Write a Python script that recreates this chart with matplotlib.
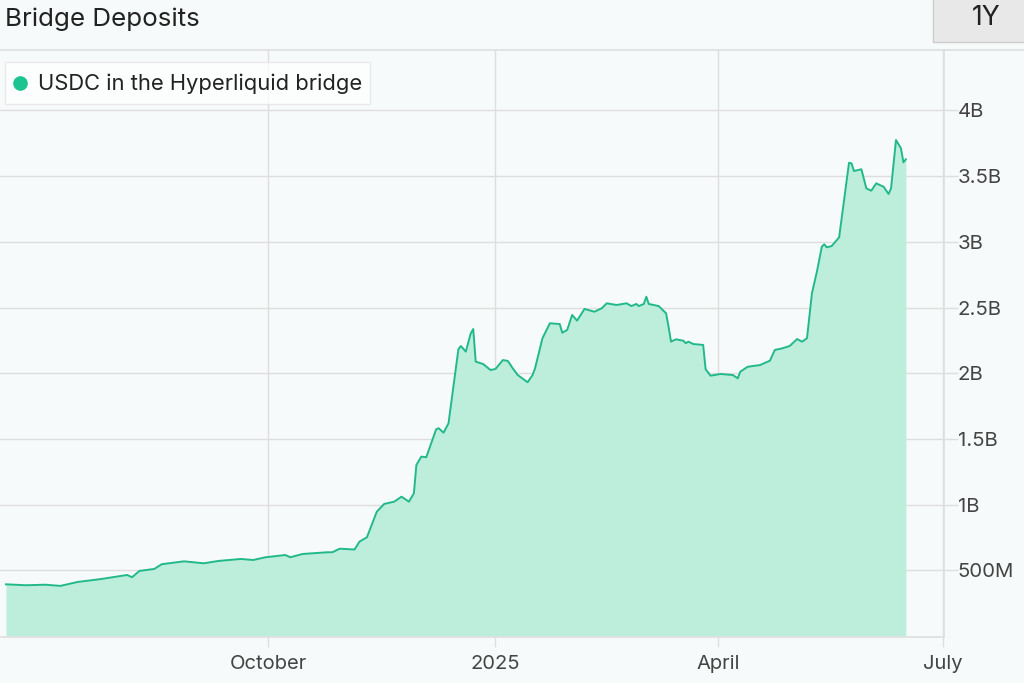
import matplotlib
matplotlib.use("Agg")
import matplotlib.pyplot as plt
import matplotlib.dates as mdates
from matplotlib.patches import Rectangle
from matplotlib.lines import Line2D
import pandas as pd

plt.rcParams['font.family'] = ['Inter', 'DejaVu Sans']

dates = [
    "2024-06-17", "2024-06-25", "2024-07-03", "2024-07-09", "2024-07-16", "2024-07-25",
    "2024-08-05", "2024-08-07", "2024-08-10", "2024-08-16", "2024-08-19", "2024-08-28",
    "2024-09-05", "2024-09-11", "2024-09-20", "2024-09-25", "2024-09-30", "2024-10-08",
    "2024-10-10", "2024-10-15", "2024-10-25", "2024-10-27", "2024-10-30", "2024-11-05",
    "2024-11-07", "2024-11-10", "2024-11-14", "2024-11-17", "2024-11-21", "2024-11-24",
    "2024-11-27", "2024-11-29", "2024-11-30", "2024-12-02", "2024-12-04", "2024-12-08",
    "2024-12-09", "2024-12-11", "2024-12-13", "2024-12-17", "2024-12-18", "2024-12-20",
    "2024-12-22", "2024-12-23", "2024-12-24", "2024-12-27", "2024-12-30", "2025-01-01",
    "2025-01-04", "2025-01-06", "2025-01-08", "2025-01-10", "2025-01-14", "2025-01-16",
    "2025-01-17", "2025-01-20", "2025-01-23", "2025-01-27", "2025-01-28", "2025-01-30",
    "2025-02-01", "2025-02-03", "2025-02-06", "2025-02-10", "2025-02-13", "2025-02-15",
    "2025-02-19", "2025-02-23", "2025-02-25", "2025-02-27", "2025-02-28", "2025-03-02",
    "2025-03-03", "2025-03-04", "2025-03-08", "2025-03-11", "2025-03-12", "2025-03-13",
    "2025-03-15", "2025-03-18", "2025-03-19", "2025-03-20", "2025-03-22", "2025-03-26",
    "2025-03-27", "2025-03-29", "2025-04-02", "2025-04-07", "2025-04-09", "2025-04-10",
    "2025-04-13", "2025-04-18", "2025-04-22", "2025-04-24", "2025-04-27", "2025-04-30",
    "2025-05-03", "2025-05-05", "2025-05-07", "2025-05-09", "2025-05-11", "2025-05-13",
    "2025-05-14", "2025-05-15", "2025-05-17", "2025-05-20", "2025-05-24", "2025-05-25",
    "2025-05-26", "2025-05-29", "2025-05-31", "2025-06-02", "2025-06-04", "2025-06-07",
    "2025-06-09", "2025-06-10", "2025-06-12", "2025-06-14", "2025-06-15", "2025-06-16",
]
usdc_billions = [
    0.393, 0.386, 0.390, 0.381, 0.411, 0.432,
    0.464, 0.447, 0.495, 0.510, 0.546, 0.568,
    0.553, 0.571, 0.586, 0.578, 0.599, 0.616,
    0.599, 0.624, 0.637, 0.637, 0.664, 0.658,
    0.718, 0.751, 0.946, 1.005, 1.022, 1.060,
    1.022, 1.086, 1.301, 1.365, 1.360, 1.573,
    1.581, 1.547, 1.619, 2.182, 2.207, 2.164,
    2.304, 2.336, 2.088, 2.070, 2.024, 2.032,
    2.100, 2.093, 2.037, 1.986, 1.931, 1.986,
    2.037, 2.266, 2.380, 2.374, 2.308, 2.329,
    2.443, 2.400, 2.489, 2.468, 2.494, 2.532,
    2.519, 2.532, 2.511, 2.527, 2.511, 2.527,
    2.582, 2.527, 2.511, 2.456, 2.354, 2.240,
    2.258, 2.247, 2.228, 2.240, 2.222, 2.215,
    2.030, 1.981, 1.994, 1.986, 1.961, 2.011,
    2.049, 2.062, 2.095, 2.177, 2.189, 2.207,
    2.260, 2.240, 2.266, 2.608, 2.772, 2.963,
    2.981, 2.958, 2.968, 3.034, 3.602, 3.597,
    3.539, 3.552, 3.407, 3.389, 3.445, 3.419,
    3.364, 3.407, 3.775, 3.712, 3.605, 3.628,
]
y_ticks = [0.5e9, 1e9, 1.5e9, 2e9, 2.5e9, 3e9, 3.5e9, 4e9]
y_labels = ["500M", "1B", "1.5B", "2B", "2.5B", "3B", "3.5B", "4B"]
x_ticks = ["2024-10-01", "2025-01-01", "2025-04-01", "2025-07-01"]
x_labels = ["October", "2025", "April", "July"]
title = "Bridge Deposits"
series_name = "USDC in the Hyperliquid bridge"
range_label = "1Y"

bg = "#f7fafa"
line_c = "#22b98a"
fill_c = "#bdeedc"
grid_c = "#dedede"
text_c = "#444444"

x = pd.to_datetime(dates)
y = [v * 1e9 for v in usdc_billions]

fig = plt.figure(figsize=(10.24, 6.83), dpi=100, facecolor=bg)
ax = fig.add_axes([0.0, 1 - 637 / 683, 944 / 1024, (637 - 50) / 683])
ax.set_facecolor(bg)

ax.fill_between(x, 0, y, color=fill_c, linewidth=0, zorder=2)
ax.plot(x, y, color=line_c, linewidth=1.4, zorder=3)

ax.set_xlim(mdates.date2num(pd.Timestamp("2024-06-14 14:00")),
            mdates.date2num(pd.Timestamp("2025-07-01 10:00")))
ax.set_ylim(-0.008e9, 4.46e9)

ax.yaxis.tick_right()
ax.set_yticks(y_ticks)
ax.set_yticklabels(y_labels)
ax.set_xticks(mdates.date2num(pd.to_datetime(x_ticks)))
ax.set_xticklabels(x_labels)
ax.tick_params(axis='y', length=10, width=1, color=grid_c, pad=0,
               labelsize=14.7, labelcolor=text_c)
ax.tick_params(axis='x', length=7, width=1, color=grid_c, pad=6,
               labelsize=14.5, labelcolor=text_c)
ax.grid(True, color=grid_c, linewidth=1, zorder=1)
ax.set_axisbelow(True)
for s in ["left", "top"]:
    ax.spines[s].set_visible(False)
for s in ["right", "bottom"]:
    ax.spines[s].set_color(grid_c)
    ax.spines[s].set_linewidth(1.2)

# top separator line across the full width
fig.add_artist(Line2D([0, 1], [1 - 50 / 683, 1 - 50 / 683], color=grid_c,
                      linewidth=1.2, transform=fig.transFigure))

fig.text(5 / 1024, 1 - 19.5 / 683, title, fontsize=18.7, color="#222222",
         ha="left", va="center")

# range button
fig.add_artist(Rectangle((933 / 1024, 1 - 42 / 683), 100 / 1024, 50 / 683,
                         transform=fig.transFigure, facecolor="#e8e8e8",
                         edgecolor="#cccccc", linewidth=1))
fig.text(986 / 1024, 1 - 18 / 683, range_label, fontsize=19, color="#222222",
         ha="center", va="center")

# legend box (semi-transparent, grid shows through)
fig.add_artist(Rectangle((5 / 1024, 1 - 104 / 683), 365 / 1024, 42 / 683,
                         transform=fig.transFigure, facecolor="white", alpha=0.75,
                         edgecolor="#e4e4e4", linewidth=1, zorder=5))
fig.add_artist(Line2D([20 / 1024], [1 - 83 / 683], marker="o", markersize=9.5,
                      color="#1cc490", linestyle="none",
                      transform=fig.transFigure, zorder=6))
fig.text(38 / 1024, 1 - 83.5 / 683, series_name, fontsize=15.8, color="#222222",
         ha="left", va="center", zorder=6)

fig.savefig("out.png", dpi=100, facecolor=bg)
